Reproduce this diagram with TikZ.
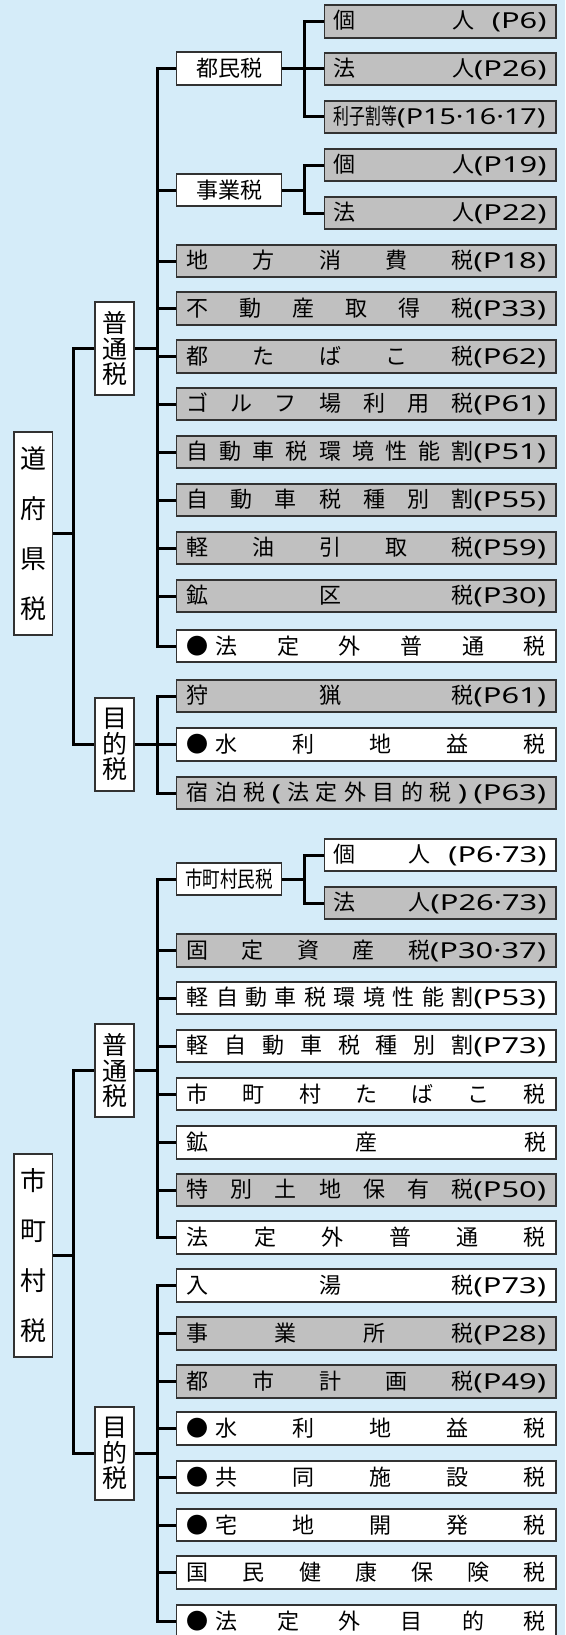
\documentclass[tikz,border=0pt]{standalone}
\usepackage{fontspec}
\usepackage{graphicx}
\setmainfont{Noto Sans CJK JP}
\newfontfamily\latfont[FakeStretch=1.4]{Noto Sans}
\usetikzlibrary{positioning}

\definecolor{bgblue}{RGB}{213,236,249}
\definecolor{boxgray}{RGB}{192,192,192}
\definecolor{boxline}{RGB}{50,50,50}

\newcommand{\pg}[1]{{\latfont(P#1)}}
\newcommand{\maru}{●\hspace{7pt}}
\newcommand{\dg}{\hphantom{\latfont 2}}

\tikzset{
  base/.style={draw=boxline, line width=1.6pt, inner sep=0pt, font=\fontsize{22}{24}\selectfont},
  wide/.style={base, minimum width=379.4pt, minimum height=32.5pt, text width=359.4pt, inner xsep=10pt, align=left},
  narrow/.style={base, minimum width=231.7pt, minimum height=32.5pt, text width=212.7pt, inner xsep=9.5pt, align=left},
  mid/.style={base, fill=white, minimum width=104.8pt, minimum height=32.5pt},
  tall/.style={base, fill=white, minimum width=38.9pt, align=center},
  gr/.style={fill=boxgray},
  wh/.style={fill=white},
  conn/.style={line width=3pt, black},
}

\begin{document}
\begin{tikzpicture}[x=1pt, y=-1pt]
\useasboundingbox (0,0) rectangle (565,1635);
\fill[bgblue] (0,0) rectangle (565,1635);

% 道府県税
\node[tall, minimum height=203pt, font=\fontsize{26}{50}\selectfont] (ken) at (33.2,533.5) {道\\府\\県\\税};
\node[tall, minimum height=93pt, font=\fontsize{25}{25.5}\selectfont] (kfutsu) at (114.6,348.5) {普\\通\\税};
\node[tall, minimum height=93pt, font=\fontsize{25}{25.5}\selectfont] (kmoku) at (114.6,744.5) {目\\的\\税};

\node[mid] (tomin) at (229,68.5) {都民税};
\node[mid] (jigyo) at (229,190) {事業税};

\node[narrow, gr] (tk1) at (440.2,21.5) {個\hfill 人\dg\pg{6}};
\node[narrow, gr] (tk2) at (440.2,69) {法\hfill 人\pg{26}};
\node[narrow, gr] (tk3) at (440.2,117) {\scalebox{0.72}[1]{利子割等}\scalebox{0.93}[1]{\pg{15·16·17}}};
\node[narrow, gr] (jk1) at (440.2,165) {個\hfill 人\pg{19}};
\node[narrow, gr] (jk2) at (440.2,213) {法\hfill 人\pg{22}};

\node[wide, gr] (k1) at (366.3,261) {地\hfill 方\hfill 消\hfill 費\hfill 税\pg{18}};
\node[wide, gr] (k2) at (366.3,308.5) {不\hfill 動\hfill 産\hfill 取\hfill 得\hfill 税\pg{33}};
\node[wide, gr] (k3) at (366.3,356.5) {都\hfill た\hfill ば\hfill こ\hfill 税\pg{62}};
\node[wide, gr] (k4) at (366.3,404) {ゴ\hfill ル\hfill フ\hfill 場\hfill 利\hfill 用\hfill 税\pg{61}};
\node[wide, gr] (k5) at (366.3,452) {自\hfill 動\hfill 車\hfill 税\hfill 環\hfill 境\hfill 性\hfill 能\hfill 割\pg{51}};
\node[wide, gr] (k6) at (366.3,500) {自\hfill 動\hfill 車\hfill 税\hfill 種\hfill 別\hfill 割\pg{55}};
\node[wide, gr] (k7) at (366.3,548) {軽\hfill 油\hfill 引\hfill 取\hfill 税\pg{59}};
\node[wide, gr] (k8) at (366.3,596) {鉱\hfill 区\hfill 税\pg{30}};
\node[wide, wh] (k9) at (366.3,646) {\maru 法\hfill 定\hfill 外\hfill 普\hfill 通\hfill 税};

\node[wide, gr] (km1) at (366.3,696) {狩\hfill 猟\hfill 税\pg{61}};
\node[wide, wh] (km2) at (366.3,744.5) {\maru 水\hfill 利\hfill 地\hfill 益\hfill 税};
\node[wide, gr] (km3) at (366.3,793) {宿\hfill 泊\hfill 税\hfill{\latfont(}\hfill 法\hfill 定\hfill 外\hfill 目\hfill 的\hfill 税\hfill{\latfont)}\hfill\pg{63}};

% 市町村税
\node[tall, minimum height=203pt, font=\fontsize{26}{50}\selectfont] (shi) at (33.2,1255.5) {市\\町\\村\\税};
\node[tall, minimum height=93pt, font=\fontsize{25}{25.5}\selectfont] (sfutsu) at (114.6,1070.5) {普\\通\\税};
\node[tall, minimum height=93pt, font=\fontsize{25}{25.5}\selectfont] (smoku) at (114.6,1453.5) {目\\的\\税};

\node[mid] (shimin) at (229,879) {\scalebox{0.8}[1]{市町村民税}};

\node[narrow, wh] (sk1) at (440.2,855) {個\hfill 人\dg\pg{6·73}};
\node[narrow, gr] (sk2) at (440.2,903) {法\hfill 人\pg{26·73}};

\node[wide, gr] (s1) at (366.3,950.5) {固\hfill 定\hfill 資\hfill 産\hfill 税\pg{30·37}};
\node[wide, wh] (s2) at (366.3,998) {軽\hfill 自\hfill 動\hfill 車\hfill 税\hfill 環\hfill 境\hfill 性\hfill 能\hfill 割\pg{53}};
\node[wide, wh] (s3) at (366.3,1046) {軽\hfill 自\hfill 動\hfill 車\hfill 税\hfill 種\hfill 別\hfill 割\pg{73}};
\node[wide, wh] (s4) at (366.3,1094) {市\hfill 町\hfill 村\hfill た\hfill ば\hfill こ\hfill 税};
\node[wide, wh] (s5) at (366.3,1142.5) {鉱\hfill 産\hfill 税};
\node[wide, gr] (s6) at (366.3,1190) {特\hfill 別\hfill 土\hfill 地\hfill 保\hfill 有\hfill 税\pg{50}};
\node[wide, wh] (s7) at (366.3,1237.5) {法\hfill 定\hfill 外\hfill 普\hfill 通\hfill 税};

\node[wide, wh] (sm1) at (366.3,1285.5) {入\hfill 湯\hfill 税\pg{73}};
\node[wide, gr] (sm2) at (366.3,1333.5) {事\hfill 業\hfill 所\hfill 税\pg{28}};
\node[wide, gr] (sm3) at (366.3,1381.5) {都\hfill 市\hfill 計\hfill 画\hfill 税\pg{49}};
\node[wide, wh] (sm4) at (366.3,1428.5) {\maru 水\hfill 利\hfill 地\hfill 益\hfill 税};
\node[wide, wh] (sm5) at (366.3,1477) {\maru 共\hfill 同\hfill 施\hfill 設\hfill 税};
\node[wide, wh] (sm6) at (366.3,1525) {\maru 宅\hfill 地\hfill 開\hfill 発\hfill 税};
\node[wide, wh] (sm7) at (366.3,1572.5) {国\hfill 民\hfill 健\hfill 康\hfill 保\hfill 険\hfill 税};
\node[wide, wh] (sm8) at (366.3,1621) {\maru 法\hfill 定\hfill 外\hfill 目\hfill 的\hfill 税};

% connectors
\draw[conn] (ken.east) -- ++(20.2,0) coordinate (a1) |- (kfutsu.west);
\draw[conn] (a1) |- (kmoku.west);
\draw[conn] (kfutsu.east) -- ++(22.3,0) coordinate (a2);
\foreach \c in {tomin,jigyo,k1,k2,k3,k4,k5,k6,k7,k8,k9}
  \draw[conn] (a2) |- (\c.west);
\draw[conn] (kmoku.east) -- ++(22.3,0) coordinate (a3);
\foreach \c in {km1,km2,km3}
  \draw[conn] (a3) |- (\c.west);
\draw[conn] (tomin.east) -- ++(22.4,0) coordinate (a4);
\foreach \c in {tk1,tk2,tk3}
  \draw[conn] (a4) |- (\c.west);
\draw[conn] (jigyo.east) -- ++(22.4,0) coordinate (a5);
\foreach \c in {jk1,jk2}
  \draw[conn] (a5) |- (\c.west);

\draw[conn] (shi.east) -- ++(20.2,0) coordinate (b1) |- (sfutsu.west);
\draw[conn] (b1) |- (smoku.west);
\draw[conn] (sfutsu.east) -- ++(22.3,0) coordinate (b2);
\foreach \c in {shimin,s1,s2,s3,s4,s5,s6,s7}
  \draw[conn] (b2) |- (\c.west);
\draw[conn] (smoku.east) -- ++(22.3,0) coordinate (b3);
\foreach \c in {sm1,sm2,sm3,sm4,sm5,sm6,sm7,sm8}
  \draw[conn] (b3) |- (\c.west);
\draw[conn] (shimin.east) -- ++(22.4,0) coordinate (b4);
\foreach \c in {sk1,sk2}
  \draw[conn] (b4) |- (\c.west);
\end{tikzpicture}
\end{document}
